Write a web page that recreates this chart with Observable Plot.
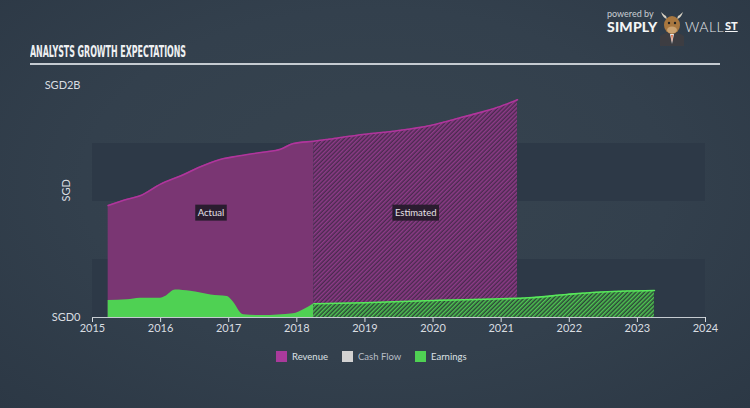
<!DOCTYPE html>
<html>
<head>
<meta charset="utf-8">
<script src="https://cdn.jsdelivr.net/npm/d3@7"></script>
<script src="https://cdn.jsdelivr.net/npm/@observablehq/plot@0.6"></script>
<style>
  html, body { margin: 0; padding: 0; }
  body {
    width: 750px; height: 408px; overflow: hidden; position: relative;
    background: radial-gradient(ellipse at 50% 45%, #37444f 0%, #33404d 55%, #2c3845 100%);
    font-family: Lato, "Open Sans", sans-serif; color: #dde1e5;
  }
  #chart { position: absolute; left: 0; top: 0; }
  .title { position: absolute; left: 30px; top: 43px; font-family: "Liberation Sans Narrow", "DejaVu Sans Condensed", sans-serif;
    font-weight: bold; font-size: 15px; color: #eef0f2; transform: scaleX(0.59); transform-origin: left top; white-space: nowrap; letter-spacing: -0.1px; }
  .rule { position: absolute; left: 30px; top: 63px; width: 690px; height: 2px; background: #c5cbd1; }
  .logo-pb { position: absolute; left: 607px; top: 8px; font-size: 9px; color: #c9ced3; }
  .logo-s { position: absolute; left: 607px; top: 18px; font-size: 14px; font-weight: 900; color: #f4f5f6; letter-spacing: 0.2px; }
  .logo-w { position: absolute; left: 685px; top: 18px; font-size: 14px; font-weight: 300; color: #e8eaec; letter-spacing: 0.5px; }
  .logo-st { position: absolute; left: 725px; top: 19px; font-size: 11px; font-weight: 900; color: #f4f5f6; text-decoration: underline; }
  #bull { position: absolute; left: 657px; top: 8px; }
  .legend { position: absolute; top: 350px; left: 0; width: 750px; height: 14px; font-size: 9.5px; }
  .legend span.sw { position: absolute; top: 1px; width: 11px; height: 11px; }
  .legend span.lb { position: absolute; top: 0px; line-height: 13px; }
</style>
</head>
<body>
<div id="chart"></div>
<div class="title">ANALYSTS GROWTH EXPECTATIONS</div>
<div class="rule"></div>
<div class="logo-pb">powered by</div>
<div class="logo-s">SIMPLY</div>
<svg id="bull" width="30" height="38" viewBox="0 0 30 38">
  <path d="M4 4 Q6 10 10 11 L9 8 Q7 7 4 4Z" fill="#d9d2c4"/>
  <path d="M26 4 Q24 10 20 11 L21 8 Q23 7 26 4Z" fill="#d9d2c4"/>
  <path d="M3 28 Q15 20 27 28 L27 38 L3 38Z" fill="#3d3d42"/>
  <path d="M13 26 L15 36 L17 26Z" fill="#e8e8e8"/>
  <path d="M14.2 27 L15 34 L15.8 27Z" fill="#e0582a"/>
  <ellipse cx="15" cy="17" rx="8" ry="9" fill="#a8773f"/>
  <ellipse cx="15" cy="22" rx="5" ry="3.5" fill="#caa271"/>
  <circle cx="12" cy="15" r="1.2" fill="#222"/>
  <circle cx="18" cy="15" r="1.2" fill="#222"/>
</svg>
<div class="logo-w">WALL</div>
<div class="logo-st">ST</div>
<div class="legend">
  <span class="sw" style="left:276px;background:#a93a9b"></span><span class="lb" style="left:292px">Revenue</span>
  <span class="sw" style="left:342px;background:#d2d2d2"></span><span class="lb" style="left:358px;color:#b8bec5">Cash Flow</span>
  <span class="sw" style="left:415px;background:#4fd153"></span><span class="lb" style="left:431px">Earnings</span>
</div>
<script>
// ---- data (SGD billions) ----
const xTicks = [2015, 2016, 2017, 2018, 2019, 2020, 2021, 2022, 2023, 2024];
const yTicks = [0, 2];

const revenueActualYears = [2015.23, 2015.51, 2015.7, 2016.0, 2016.29, 2016.63, 2016.93, 2017.12, 2017.5, 2017.76, 2017.95, 2018.25];
const revenueActual      = [0.966, 1.02, 1.05, 1.15, 1.22, 1.31, 1.37, 1.39, 1.425, 1.45, 1.50, 1.52];
const revenueEstYears    = [2018.25, 2019.0, 2019.47, 2019.96, 2020.45, 2020.94, 2021.24];
const revenueEst         = [1.52, 1.58, 1.61, 1.655, 1.73, 1.81, 1.877];

const earningsActualYears = [2015.23, 2015.51, 2015.7, 2016.0, 2016.06, 2016.22, 2016.44, 2016.74, 2016.98, 2017.05, 2017.22, 2017.5, 2017.95, 2018.1, 2018.25];
const earningsActual      = [0.147, 0.152, 0.166, 0.166, 0.178, 0.238, 0.227, 0.195, 0.18, 0.147, 0.023, 0.017, 0.032, 0.066, 0.118];
const earningsEstYears    = [2018.25, 2019.0, 2020.0, 2021.0, 2021.4, 2021.96, 2022.4, 2023.25];
const earningsEst         = [0.118, 0.127, 0.147, 0.161, 0.17, 0.198, 0.218, 0.233];

const cashFlowYears = [];
const cashFlow = [];

const bandsLow  = [0, 1];
const bandsHigh = [0.5, 1.5];

const phaseLabels = ["Actual", "Estimated"];
const phaseX = [(revenueActualYears[0] + revenueActualYears[revenueActualYears.length - 1]) / 2,
                (revenueEstYears[0] + revenueEstYears[revenueEstYears.length - 1]) / 2];
const phaseY = [0.9, 0.9];

// ---- tables ----
const zip = (xs, ys) => xs.map((x, i) => ({x, y: ys[i]}));
const revA = zip(revenueActualYears, revenueActual);
const revE = zip(revenueEstYears, revenueEst);
const revAll = revA.concat(revE.slice(1));
const earnA = zip(earningsActualYears, earningsActual);
const earnE = zip(earningsEstYears, earningsEst);
const bands = bandsLow.map((lo, i) => ({lo, hi: bandsHigh[i]}));
const labels = phaseLabels.map((t, i) => ({t, x: phaseX[i], y: phaseY[i]}));

const curve = "monotone-x";

const plot = Plot.plot({
  width: 750,
  height: 340,
  marginLeft: 92,
  marginRight: 45,
  marginTop: 85,
  marginBottom: 23,
  style: {background: "transparent", color: "#d9dde1", fontFamily: "Lato, sans-serif", fontSize: "11px", overflow: "visible"},
  x: {domain: [2015, 2024], ticks: xTicks, tickFormat: d => String(d), tickSize: 5, tickPadding: 2, label: null},
  y: {domain: [0, 2], ticks: yTicks, tickFormat: d => d === 0 ? "SGD0" : "SGD" + d + "B", tickSize: 0, tickPadding: 12, label: null},
  marks: [
    Plot.rect(bands, {x1: 2015, x2: 2024, y1: "lo", y2: "hi", fill: "#2d3947"}),
    Plot.areaY(revA, {x: "x", y: "y", fill: "#7a3673", curve}),
    Plot.areaY(revE, {x: "x", y: "y", fill: "url(#hatchRev)", curve}),
    Plot.line(revAll, {x: "x", y: "y", stroke: "#b0359c", strokeWidth: 1.6, curve}),
    Plot.areaY(earnA, {x: "x", y: "y", fill: "#4fd153", curve}),
    Plot.areaY(earnE, {x: "x", y: "y", fill: "url(#hatchEarn)", curve}),
    Plot.line(earnE, {x: "x", y: "y", stroke: "#58e85b", strokeWidth: 1.6, curve}),
    Plot.ruleY([0], {x1: 2015, x2: 2024, stroke: "#c5cbd1", strokeWidth: 1.2}),
    Plot.text(["SGD"], {frameAnchor: "left", dx: -26, rotate: -90, fill: "#d9dde1", fontSize: 11}),
    Plot.text(labels, {x: "x", y: "y", text: "t", fill: "#e6e2e8", fontSize: 9.5})
  ]
});

document.getElementById("chart").appendChild(plot);

// hatch patterns
const ns = "http://www.w3.org/2000/svg";
const defs = document.createElementNS(ns, "defs");
defs.innerHTML = `
  <pattern id="hatchRev" patternUnits="userSpaceOnUse" width="3" height="3" patternTransform="rotate(45)">
    <rect width="3" height="3" fill="#4a2a4f"></rect>
    <line x1="0.75" y1="0" x2="0.75" y2="3" stroke="#8e3b88" stroke-width="1.6"></line>
  </pattern>
  <pattern id="hatchEarn" patternUnits="userSpaceOnUse" width="3" height="3" patternTransform="rotate(45)">
    <rect width="3" height="3" fill="#2c4638"></rect>
    <line x1="0.75" y1="0" x2="0.75" y2="3" stroke="#4fc652" stroke-width="1.5"></line>
  </pattern>`;
plot.insertBefore(defs, plot.firstChild);

// label boxes behind the phase labels
Array.from(plot.querySelectorAll("text"))
  .filter(t => phaseLabels.includes(t.textContent.trim()))
  .forEach(t => {
    const b = t.getBBox();
    const r = document.createElementNS(ns, "rect");
    r.setAttribute("x", b.x - 2.5);
    r.setAttribute("y", b.y - 2.5);
    r.setAttribute("width", b.width + 5);
    r.setAttribute("height", b.height + 5);
    r.setAttribute("fill", "#2a1c2f");
    const tr = t.getAttribute("transform");
    if (tr) r.setAttribute("transform", tr);
    t.parentNode.insertBefore(r, t);
  });
</script>
</body>
</html>
